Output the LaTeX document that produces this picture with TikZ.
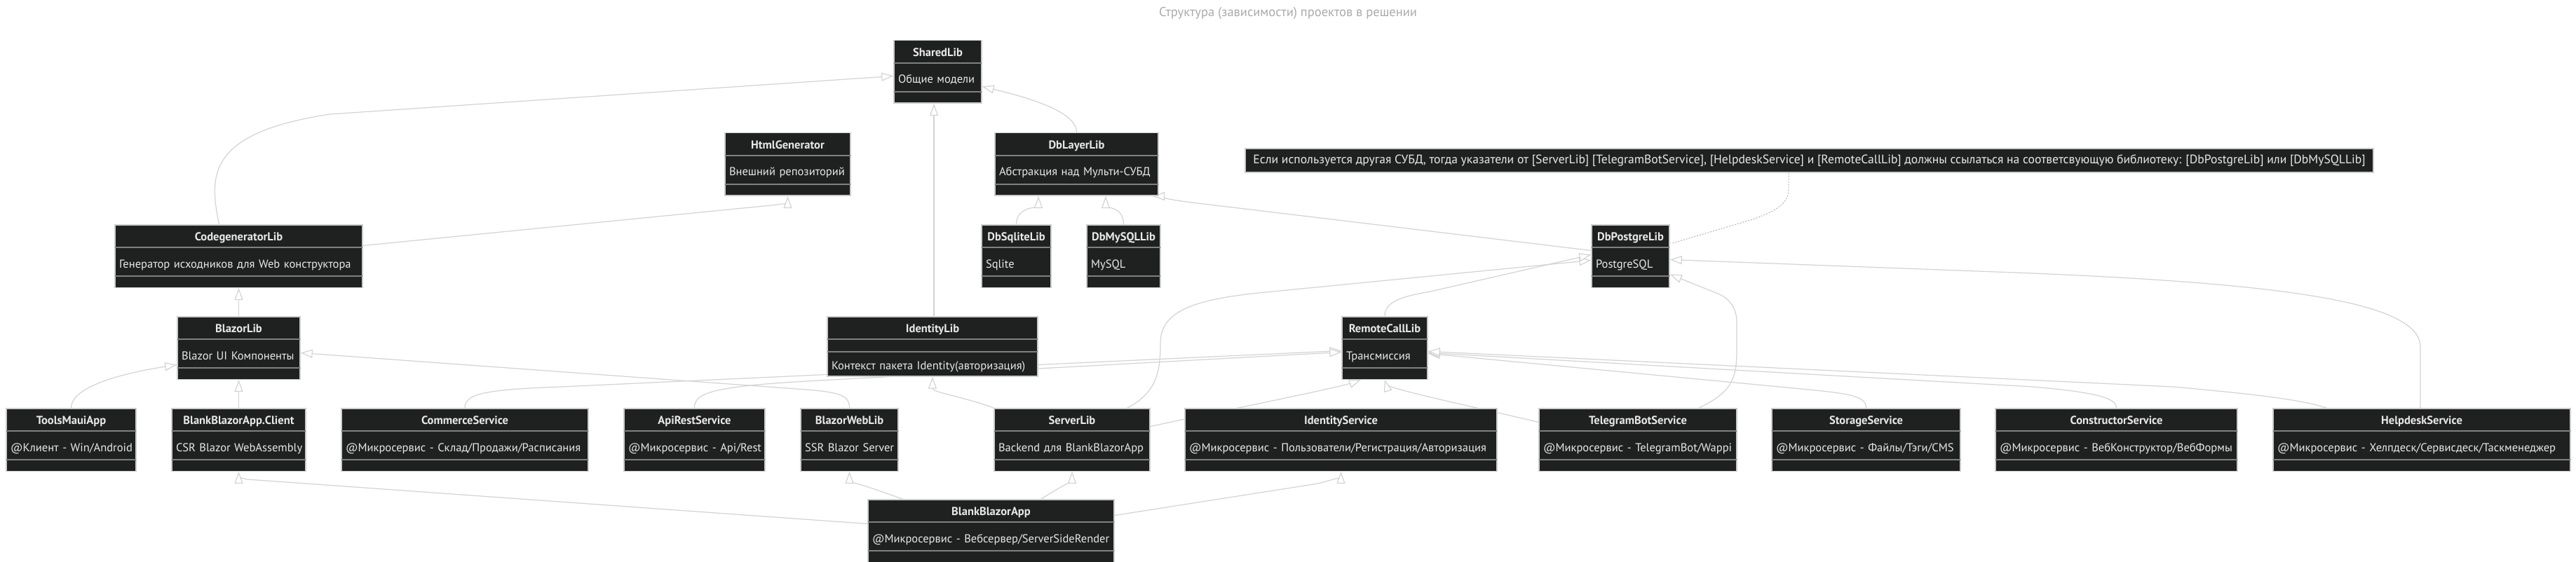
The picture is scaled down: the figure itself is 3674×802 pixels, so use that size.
\documentclass[tikz,border=0pt]{standalone}
\usepackage{fontspec}
\setmainfont{PT Sans}
\usetikzlibrary{arrows.meta,shapes.multipart,calc}
\usepackage{xcolor}
\definecolor{clsfill}{RGB}{31, 32, 32}
\definecolor{clsborder}{RGB}{204, 204, 204}
\definecolor{clssplit}{RGB}{128, 128, 128}
\definecolor{clstext}{RGB}{232, 232, 232}
\definecolor{edgecol}{RGB}{211, 211, 211}
\definecolor{titlecol}{RGB}{170, 170, 170}

\pgfdeclarelayer{backdrop}
\pgfdeclarelayer{edges}
\pgfsetlayers{backdrop,edges,main}

\newcommand{\headstrut}{\rule[-4pt]{0pt}{21pt}}
\newcommand{\rowstrut}{\rule[-6pt]{0pt}{29pt}}
\newcommand{\clshead}[1]{\noindent\makebox[\hsize][c]{\headstrut\textbf{#1}}}
\newcommand{\clsrow}[1]{\noindent\makebox[\hsize][l]{\hspace*{6pt}\rowstrut #1}}

\begin{document}
\begin{tikzpicture}[
    x=1pt, y=-1pt,
    cls/.style={
        rectangle split,
        rectangle split parts=3,
        rectangle split draw splits=false,
        rectangle split empty part height=0pt,
        rectangle split empty part depth=0pt,
        draw=clsborder,
        line width=1.5pt,
        fill=clsfill,
        text=clstext,
        inner xsep=0pt,
        inner ysep=5pt,
        anchor=north,
        font=\fontsize{16.5}{20}\selectfont
    },
    splitline/.style={draw=clssplit, line width=2pt, shorten <=0.75pt, shorten >=0.75pt},
    notebox/.style={draw=clsborder, line width=1.5pt, fill=clsfill, text=clstext,
        inner sep=0pt, minimum height=34pt, font=\fontsize{17.6}{20}\selectfont},
    dep/.style={draw=edgecol, line width=1.2pt,
        -{Triangle[open, fill=white, length=17pt, width=12pt]}},
    hint/.style={draw=edgecol!85!black, line width=1pt, dash pattern=on 2pt off 2pt}
]

        \useasboundingbox (0,0) rectangle (3674,802);
        \begin{pgfonlayer}{backdrop}
            \fill[white] (0,0) rectangle (3674,802);
        \end{pgfonlayer}

        \node (heading) [text=titlecol, font=\fontsize{18.5}{22}\selectfont] at (1837,19)
            {Структура (зависимости) проектов в решении};

        % libraries
        \node (shared) [
            cls,
            text width=125pt
        ] at (1337.5,57)
        {
            \nodepart{one}
                \clshead{SharedLib}
            \nodepart{two}
                \clsrow{Общие модели}
        };

        \node (htmlgen) [
            cls,
            text width=179pt
        ] at (1123.5,189)
        {
            \nodepart{one}
                \clshead{HtmlGenerator}
            \nodepart{two}
                \clsrow{Внешний репозиторий}
        };

        \node (dblayer) [
            cls,
            text width=233pt
        ] at (1535.5,189)
        {
            \nodepart{one}
                \clshead{DbLayerLib}
            \nodepart{two}
                \clsrow{Абстракция над Мульти-СУБД}
        };

        \node (note) [
            notebox,
            minimum width=1609pt
        ] at (2580.5,229)
        {Если используется другая СУБД, тогда указатели от [ServerLib] [TelegramBotService], [HelpdeskService] и [RemoteCallLib] должны ссылаться на соответсвующую библиотеку: [DbPostgreLib] или [DbMySQLLib]};

        \node (cgen) [
            cls,
            text width=353pt
        ] at (340.5,320)
        {
            \nodepart{one}
                \clshead{CodegeneratorLib}
            \nodepart{two}
                \clsrow{Генератор исходников для Web конструктора}
        };

        \node (sqlite) [
            cls,
            text width=99pt
        ] at (1449.5,320)
        {
            \nodepart{one}
                \clshead{DbSqliteLib}
            \nodepart{two}
                \clsrow{Sqlite}
        };

        \node (mysql) [
            cls,
            text width=105pt
        ] at (1602.5,320)
        {
            \nodepart{one}
                \clshead{DbMySQLLib}
            \nodepart{two}
                \clsrow{MySQL}
        };

        \node (postgre) [
            cls,
            text width=111pt
        ] at (2325.5,320)
        {
            \nodepart{one}
                \clshead{DbPostgreLib}
            \nodepart{two}
                \clsrow{PostgreSQL}
        };

        \node (blazor) [
            cls,
            text width=175pt
        ] at (340.5,451)
        {
            \nodepart{one}
                \clshead{BlazorLib}
            \nodepart{two}
                \clsrow{Blazor UI Компоненты}
        };

        \node (identitylib) [
            cls,
            text width=300pt
        ] at (1330,451)
        {
            \nodepart{one}
                \clshead{IdentityLib}
            \nodepart{two}
                \rule{0pt}{6pt}
            \nodepart{three}
                \noindent\makebox[\hsize][l]{\hspace*{6pt}\rule[-3pt]{0pt}{23pt}Контекст пакета Identity(авторизация)}
        };

        \node (remotecall) [
            cls,
            text width=122pt
        ] at (1975,451)
        {
            \nodepart{one}
                \clshead{RemoteCallLib}
            \nodepart{two}
                \clsrow{Трансмиссия}
        };

        % applications and services
        \node (tools) [
            cls,
            text width=185pt
        ] at (101.5,582)
        {
            \nodepart{one}
                \clshead{ToolsMauiApp}
            \nodepart{two}
                \clsrow{@Клиент - Win/Android}
        };

        \node (client) [
            cls,
            text width=191pt
        ] at (340.5,582)
        {
            \nodepart{one}
                \clshead{BlankBlazorApp.Client}
            \nodepart{two}
                \clsrow{CSR Blazor WebAssembly}
        };

        \node (commerce) [
            cls,
            text width=352pt
        ] at (663,582)
        {
            \nodepart{one}
                \clshead{CommerceService}
            \nodepart{two}
                \clsrow{@Микросервис - Склад/Продажи/Расписания}
        };

        \node (apirest) [
            cls,
            text width=201pt
        ] at (990.5,582)
        {
            \nodepart{one}
                \clshead{ApiRestService}
            \nodepart{two}
                \clsrow{@Микросервис - Api/Rest}
        };

        \node (blazorweb) [
            cls,
            text width=139pt
        ] at (1211.5,582)
        {
            \nodepart{one}
                \clshead{BlazorWebLib}
            \nodepart{two}
                \clsrow{SSR Blazor Server}
        };

        \node (server) [
            cls,
            text width=222pt
        ] at (1529,582)
        {
            \nodepart{one}
                \clshead{ServerLib}
            \nodepart{two}
                \clsrow{Backend для BlankBlazorApp}
        };

        \node (identitysvc) [
            cls,
            text width=445pt
        ] at (1912.5,582)
        {
            \nodepart{one}
                \clshead{IdentityService}
            \nodepart{two}
                \clsrow{@Микросервис - Пользователи/Регистрация/Авторизация}
        };

        \node (telegram) [
            cls,
            text width=282pt
        ] at (2336,582)
        {
            \nodepart{one}
                \clshead{TelegramBotService}
            \nodepart{two}
                \clsrow{@Микросервис - TelegramBot/Wappi}
        };

        \node (storage) [
            cls,
            text width=269pt
        ] at (2661.5,582)
        {
            \nodepart{one}
                \clshead{StorageService}
            \nodepart{two}
                \clsrow{@Микросервис - Файлы/Тэги/CMS}
        };

        \node (constructor) [
            cls,
            text width=345pt
        ] at (3018.5,582)
        {
            \nodepart{one}
                \clshead{ConstructorService}
            \nodepart{two}
                \clsrow{@Микросервис - ВебКонструктор/ВебФормы}
        };

        \node (helpdesk) [
            cls,
            text width=424pt
        ] at (3454,582)
        {
            \nodepart{one}
                \clshead{HelpdeskService}
            \nodepart{two}
                \clsrow{@Микросервис - Хелпдеск/Сервисдеск/Таскменеджер}
        };

        \node (blankapp) [
            cls,
            text width=351pt
        ] at (1413.5,712)
        {
            \nodepart{one}
                \clshead{BlankBlazorApp}
            \nodepart{two}
                \clsrow{@Микросервис - Вебсервер/ServerSideRender}
        };

        \foreach \n in {shared, htmlgen, dblayer, cgen, sqlite, mysql, postgre, blazor,
            identitylib, remotecall, tools, client, commerce, apirest, blazorweb, server,
            identitysvc, telegram, storage, constructor, helpdesk, blankapp}
        {
            \draw[splitline] (\n.text split west) -- (\n.text split east);
            \draw[splitline] (\n.two split west) -- (\n.two split east);
        }

        % dependencies, under the boxes
        \begin{pgfonlayer}{edges}
        \draw[dep] ($(cgen.north)+(-28,0)$) .. controls (298,250) and (295,190) .. (470,163) -- ($(shared.west)+(0,6)$);
        \draw[dep] (dblayer.north) .. controls (1536,160) and (1470,140) .. ($(shared.east)+(0,21)$);
        \draw[dep] ($(identitylib.north)+(2,0)$) -- ($(shared.south)+(-5.5,0)$);
        \draw[dep] ($(cgen.east)+(0,-15)$) -- (1100,293) .. controls (1118,291) and (1123.5,288) .. (htmlgen.south);
        \draw[dep] ($(postgre.west)+(0,-8)$) -- (1700,289) .. controls (1660,284) and (1648,280) .. ($(dblayer.south)+(108.5,0)$);
        \draw[dep] (sqlite.north) .. controls (1449.5,295) and (1481,295) .. ($(dblayer.south)+(-54.5,0)$);
        \draw[dep] (mysql.north) .. controls (1602.5,295) and (1577,295) .. ($(dblayer.south)+(41.5,0)$);
        \draw[dep] (blazor.north) -- (cgen.south);
        \draw[dep] (tools.north) .. controls (101.5,555) and (160,535) .. ($(blazor.west)+(0,24)$);
        \draw[dep] (client.north) -- (blazor.south);
        \draw[dep] (blazorweb.north) .. controls (1211.5,565) and (1200,560) .. (1150,556) -- ($(blazor.east)+(0,7)$);
        \draw[dep] (commerce.north) .. controls (663,562) and (690,556) .. (800,552) -- ($(remotecall.west)+(0,4)$);
        \draw[dep] (apirest.north) .. controls (990.5,562) and (1010,552) .. (1150,544) -- ($(remotecall.west)+(0,6)$);
        \draw[dep] (server.north west) .. controls (1370,565) and (1330,560) .. (identitylib.south);
        \draw[dep] ($(server.north)+(79,0)$) .. controls (1650,560) and (1655,530) .. (1655,490)
            .. controls (1655,445) and (1700,428) .. (1795,418) -- ($(postgre.west)+(0,6)$);
        \draw[dep] (remotecall.north) .. controls (1975,430) and (2000,423) .. (2040,416) -- ($(postgre.west)+(0,-2)$);
        \draw[dep] ($(telegram.north)+(87,0)$) .. controls (2470,560) and (2477,540) .. (2477,500) -- (2477,460)
            .. controls (2477,438) and (2465,425) .. (2450,419) -- ($(postgre.east)+(0,26)$);
        \draw[dep] ($(helpdesk.north)+(-2,0)$) -- (3452,495) .. controls (3452,430) and (3250,405) .. (2900,390) -- ($(postgre.east)+(0,5)$);
        \draw[dep] ($(server.east)+(0,-19)$) .. controls (1750,585) and (1900,555) .. (1930,546) -- ($(remotecall.south)+(-34,0)$);
        \draw[dep] ($(telegram.west)+(0,-25)$) .. controls (2100,580) and (1990,557) .. (1977,549) -- (remotecall.south);
        \draw[dep] (storage.north) .. controls (2661.5,566) and (2640,562) .. (2580,556) -- ($(remotecall.east)+(0,8)$);
        \draw[dep] (constructor.north) .. controls (3018.5,568) and (2990,560) .. (2900,552) -- ($(remotecall.east)+(0,7)$);
        \draw[dep] ($(helpdesk.north)+(-136,0)$) .. controls (3280,570) and (3220,563) .. (3100,552) -- ($(remotecall.east)+(0,5)$);
        \draw[dep] ($(blankapp.west)+(0,-10)$) -- (352,684) .. controls (342,682) and (340.5,678) .. (client.south);
        \draw[dep] ($(blankapp.north)+(-126.5,0)$) .. controls (1225,690) and (1211.5,686) .. (blazorweb.south);
        \draw[dep] ($(blankapp.north)+(71.5,0)$) .. controls (1520,690) and (1529,686) .. (server.south);
        \draw[dep] ($(blankapp.east)+(0,-22)$) -- (1880,690) .. controls (1908,683) and (1912.5,678) .. (identitysvc.south);
        \draw[hint] ($(note.south)+(-29.5,0)$) -- (2551,270) .. controls (2551,292) and (2530,302) .. (2500,313) -- ($(postgre.east)+(2,-18)$);
        \end{pgfonlayer}
    \end{tikzpicture}
\end{document}
